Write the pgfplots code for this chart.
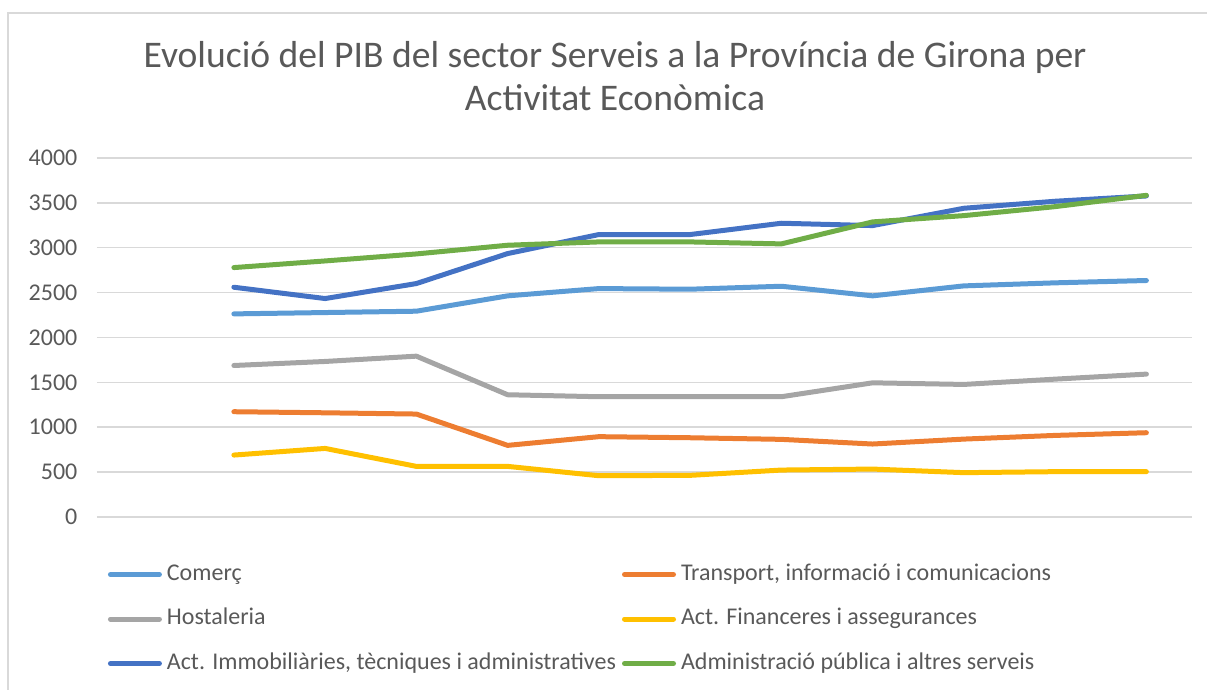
\documentclass[border=0pt]{standalone}
\usepackage{pgfplots}
\pgfplotsset{compat=1.18}
\usepackage{pgfplotstable}
\usepackage{fontspec}
\setmainfont{Carlito}
\definecolor{cCom}{HTML}{5B9BD5}
\definecolor{cTra}{HTML}{ED7D31}
\definecolor{cHos}{HTML}{A5A5A5}
\definecolor{cFin}{HTML}{FFC000}
\definecolor{cImm}{HTML}{4472C4}
\definecolor{cAdm}{HTML}{70AD47}
\definecolor{txt}{HTML}{595959}
\definecolor{grd}{HTML}{D9D9D9}
\pgfplotstableread{
x com tra hos fin imm adm
1 2263 1173 1688 690 2560 2779
2 2278 1161 1733 764 2434 2853
3 2293 1147 1792 564 2601 2931
4 2464 798 1362 564 2935 3028
5 2545 895 1340 460 3147 3065
6 2538 883 1340 464 3147 3065
7 2571 865 1340 523 3273 3043
8 2464 813 1495 534 3247 3288
9 2575 868 1477 494 3440 3358
10 2609 909 1536 505 3518 3458
11 2635 939 1592 505 3577 3584
}\data
\begin{document}
\begin{tikzpicture}
\begin{axis}[
  at={(0,0)}, anchor=south west,
  scale only axis, width=547.5pt, height=179.5pt,
  xmin=-0.5, xmax=11.5, ymin=0, ymax=4000,
  xtick=\empty,
  ytick={0,500,...,4000},
  ymajorgrids, major grid style={grd, line width=0.75pt},
  axis line style={draw=none},
  major tick length=0pt,
  tick style={draw=none},
  /pgf/number format/assume math mode=true,
  /pgf/number format/1000 sep={},
  yticklabel style={font=\fontsize{12}{14}\selectfont, text=txt, anchor=east, xshift=-6.3pt},
  clip=false,
  every axis plot/.append style={line width=2.5pt, line cap=round, line join=round},
  legend columns=2,
  legend cell align=left,
  legend image code/.code={\draw[#1] (1.25pt,0pt) -- (25.75pt,0pt);},
  legend style={at={(axis description cs:0.010,-0.131)}, anchor=north west,
    draw=none, fill=none, inner sep=0pt, outer sep=0pt,
    font=\fontsize{12}{14}\selectfont, text=txt,
    nodes={inner sep=0pt, text height=8pt, text depth=2.5pt},
    row sep=11.75pt,
    /tikz/every odd column/.append style={column sep=2.5pt},
    /tikz/every even column/.append style={column sep=3pt}},
]
\addplot[cCom] table[x=x, y=com] {\data};
\addlegendentry{Comerç}
\addplot[cTra] table[x=x, y=tra] {\data};
\addlegendentry{Transport, informació i comunicacions}
\addplot[cHos] table[x=x, y=hos] {\data};
\addlegendentry{Hostaleria}
\addplot[cFin] table[x=x, y=fin] {\data};
\addlegendentry{Act. Financeres i assegurances}
\addplot[cImm] table[x=x, y=imm] {\data};
\addlegendentry{Act. Immobiliàries, tècniques i administratives}
\addplot[cAdm] table[x=x, y=adm] {\data};
\addlegendentry{Administració pública i altres serveis}
\end{axis}
\node[anchor=base, text=txt, font=\fontsize{18.8}{22}\selectfont, inner sep=0pt] at (259pt,224.5pt) {Evolució del PIB del sector Serveis a la Província de Girona per};
\node[anchor=base, text=txt, font=\fontsize{18.8}{22}\selectfont, inner sep=0pt] at (259pt,203pt) {Activitat Econòmica};
\pgfresetboundingbox
\useasboundingbox (-48.5pt,-86.5pt) rectangle (555pt,258.5pt);
\draw[grd, line width=1.2pt] (-44.5pt,-90pt) -- (-44.5pt,252pt) -- (560pt,252pt);
\end{tikzpicture}
\end{document}
